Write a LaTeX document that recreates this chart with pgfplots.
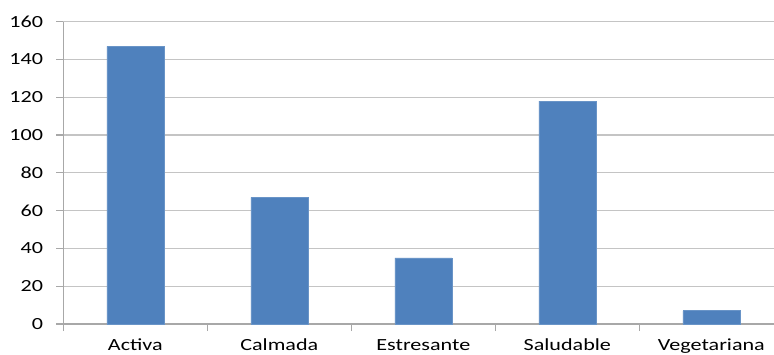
\documentclass[border=0pt]{standalone}
\usepackage{fontspec}
\setmainfont{Carlito}[FakeStretch=1.3]
\usepackage{pgfplots}
\pgfplotsset{compat=1.18}
\definecolor{barblue}{HTML}{4F81BD}
\definecolor{gridgrey}{HTML}{C4C4C4}
\definecolor{axisgrey}{HTML}{A8A8A8}

\begin{document}
\fontsize{17bp}{20bp}\selectfont
\begin{tikzpicture}[x=1bp,y=1bp]
\begin{axis}[
  at={(0,0)}, anchor=south west,
  scale only axis, width=710.7bp, height=302.3bp,
  xmin=-0.5, xmax=4.435, ymin=0, ymax=160,
  ytick={0,20,...,160},
  ymajorgrids, grid style={gridgrey, line width=1.2bp},
  axis x line*=bottom, axis y line*=left,
  axis line style={axisgrey, line width=1.2bp},
  xtick={0,1,2,3,4},
  xticklabels={Activa,Calmada,Estresante,Saludable,Vegetariana},
  minor xtick={-0.5,0.5,1.5,2.5,3.5},
  major x tick style={draw=none},
  tick align=outside,
  major tick length=7bp, minor tick length=7bp,
  every tick/.style={axisgrey, line width=1.2bp},
  minor tick style={axisgrey, line width=1.2bp},
  /pgf/number format/assume math mode=true,
  yticklabel style={anchor=east, inner sep=0pt, xshift=-13bp, font=\fontsize{17bp}{20bp}\selectfont},
  xticklabel style={anchor=base, inner sep=0pt, yshift=-19bp, font=\fontsize{17bp}{20bp}\selectfont},
  ybar, bar width=57bp,
]
\addplot[fill=barblue, draw=barblue!85!white, line width=0.6bp]
  coordinates {(0,147) (1,67) (2,35) (3,118) (4,7)};
\end{axis}
\pgfresetboundingbox
\useasboundingbox (-63.3,-30) rectangle (710.7,324);
\end{tikzpicture}
\end{document}
